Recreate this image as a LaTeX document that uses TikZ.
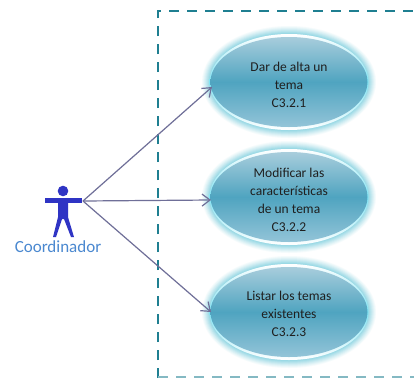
\documentclass[tikz,border=0pt]{standalone}
\usepackage{fontspec}
\setmainfont{Carlito}
\usetikzlibrary{arrows.meta}
\definecolor{frameteal}{HTML}{1F7F91}
\definecolor{actorblue}{HTML}{2F34C4}
\definecolor{actortext}{HTML}{4A88D0}
\definecolor{linkgrey}{HTML}{6F6F98}
\definecolor{glowc}{HTML}{7FD0E0}
\definecolor{caseT}{HTML}{A8CDDC}
\definecolor{caseM}{HTML}{4FA4C0}
\definecolor{caseB}{HTML}{93C4D8}
\definecolor{rimM}{HTML}{80E4F4}
\tikzset{
 x=1pt,y=-1pt,
 frameline/.style={draw=frameteal,line width=1.6pt,dash pattern=on 10pt off 8pt},
 baseline/.style={draw=frameteal!55,line width=1.1pt,dash pattern=on 10pt off 8pt},
 link/.style={draw=linkgrey,line width=1.2pt},
 linkarrow/.style={link,-{Straight Barb[length=8pt,width=12pt,line width=1.2pt]}},
 casetext/.style={font=\fontsize{13.5}{17.8}\selectfont,align=center,text=black!88},
}
\newcommand{\usecase}[5]{%
 \foreach \g/\o in {8/0.07,7/0.09,6/0.11,5/0.13,4/0.16,3/0.2,2/0.25,1/0.3}{
  \fill[glowc,opacity=\o] (#1,#2) ellipse [x radius=79+\g,y radius=48+\g];
 }
 \shade[top color=white,bottom color=white,middle color=rimM] (#1,#2) ellipse [x radius=79.5,y radius=48];
 \shade[top color=caseT,bottom color=caseB,middle color=caseM] (#1,#2) ellipse [x radius=78.5,y radius=45];
 \node[casetext] (#3) at (#1,#5) {#4};
}
\begin{document}
\begin{tikzpicture}
\useasboundingbox (0,0) rectangle (414,378);
\fill[white] (0,0) rectangle (414,378);
\draw[frameline] (158,378) -- (158,11) -- (414,11);
\draw[baseline] (158,377) -- (414,377);
\usecase{289}{82}{a}{Dar de alta un\\tema\\C3.2.1}{85}
\usecase{289}{197}{b}{Modificar las\\características\\de un tema\\C3.2.2}{200}
\usecase{289}{312}{c}{Listar los temas\\existentes\\C3.2.3}{314}
% actor
\fill[actorblue] (63,191) circle (5.3);
\fill[actorblue] (45,198) rectangle (82,203);
\fill[actorblue] (58,203) -- (68,203) -- (68,217) -- (74,237) -- (71,237) -- (64,219) -- (62,219) -- (56,237) -- (53,237) -- (58,217) -- cycle;
\node[font=\fontsize{17}{19}\selectfont,text=actortext] (actor) at (58,246.5) {Coordinador};
\coordinate (hand) at (83,201);
\draw[linkarrow] (hand) -- (212,87);
\draw[linkarrow] (hand) -- (211,200);
\draw[linkarrow] (hand) -- (211,312);
\end{tikzpicture}
\end{document}
